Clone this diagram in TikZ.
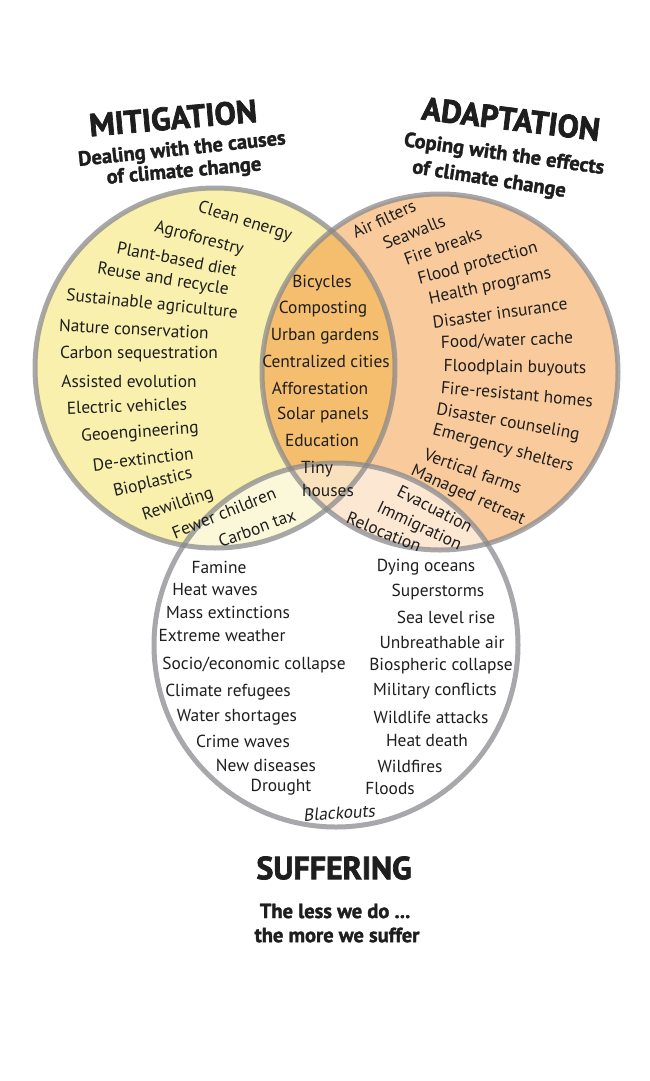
\documentclass[tikz,border=0pt]{standalone}
\usepackage{fontspec}
\setmainfont{PT Sans}
\newfontfamily\heavyfont{PT Sans}[FakeBold=2.2]
\newfontfamily\subheavyfont{PT Sans}[FakeBold=1.6]
\newfontfamily\slantfont{PT Sans}[FakeSlant=0.18]
\definecolor{mityellow}{RGB}{248,240,172}
\definecolor{adorange}{RGB}{249,203,156}
\definecolor{bothorange}{RGB}{245,190,110}
\definecolor{ringgray}{RGB}{135,135,140}
\definecolor{inktext}{RGB}{30,30,30}
\begin{document}
\begin{tikzpicture}[x=1pt,y=-1pt,
  item/.style={font=\fontsize{17.4}{19}\selectfont, inner sep=0pt, text=inktext},
  title/.style={font=\heavyfont\bfseries\fontsize{32}{34}\selectfont, inner sep=0pt, text=inktext},
  subtitle/.style={font=\subheavyfont\bfseries\fontsize{20.5}{22}\selectfont, inner sep=0pt, text=inktext},
  ring/.style={draw=ringgray, line width=5pt, draw opacity=0.72}]
\useasboundingbox (0,0) rectangle (649,1081);
\fill[white] (0,0) rectangle (649,1081);
% circles
\coordinate (cm) at (215,368);
\coordinate (ca) at (440,372);
\coordinate (cs) at (336,645);
\fill[mityellow] (cm) circle (180);
\fill[adorange] (ca) circle (178);
\begin{scope}
  \clip (cm) circle (180);
  \fill[bothorange] (ca) circle (178);
\end{scope}
\fill[white, fill opacity=0.55] (cs) circle (182);
\draw[ring] (cm) circle (180);
\draw[ring] (ca) circle (178);
\draw[ring] (cs) circle (182);
% titles
\node[title, rotate=5] (tm) at (173,118) {MITIGATION};
\node[subtitle, rotate=6] (tm1) at (182,150) {Dealing with the causes};
\node[subtitle, rotate=5] (tm2) at (184,172) {of climate change};
\node[title, rotate=-7] (ta) at (511,119) {ADAPTATION};
\node[subtitle, rotate=-8] (ta1) at (504,155) {Coping with the effects};
\node[subtitle, rotate=-9] (ta2) at (489,180) {of climate change};
\node[title] (ts) at (334,868) {SUFFERING};
\node[subtitle] (ts1) at (335,911) {The less we do ...};
\node[subtitle] (ts2) at (337,935) {the more we suffer};
% mitigation
\node[item, rotate=-17] (m1) at (245,222) {Clean energy};
\node[item, rotate=-15] (m2) at (199,239) {Agroforestry};
\node[item, rotate=-11] (m3) at (177,259) {Plant-based diet};
\node[item, rotate=-9] (m4) at (163,280) {Reuse and recycle};
\node[item, rotate=-6] (m5) at (152,305) {Sustainable agriculture};
\node[item, rotate=-3] (m6) at (134,329) {Nature conservation};
\node[item] (m7) at (139,354) {Carbon sequestration};
\node[item] (m8) at (129,381) {Assisted evolution};
\node[item, rotate=2] (m9) at (127,406) {Electric vehicles};
\node[item, rotate=4] (m10) at (140,433) {Geoengineering};
\node[item, rotate=7] (m11) at (143,459) {De-extinction};
\node[item, rotate=13] (m12) at (153,483) {Bioplastics};
\node[item, rotate=18] (m13) at (178,505) {Rewilding};
\node[item, rotate=22] (m14) at (224,513) {Fewer children};
\node[item, rotate=20] (m15) at (257,528) {Carbon tax};
% both
\node[item] (b1) at (322,283) {Bicycles};
\node[item] (b2) at (323,309) {Composting};
\node[item] (b3) at (325,336) {Urban gardens};
\node[item] (b4) at (326,361) {Centralized cities};
\node[item] (b5) at (320,388) {Afforestation};
\node[item] (b6) at (323,415) {Solar panels};
\node[item] (b7) at (322,440) {Education};
\node[item] (b8) at (317,469) {Tiny};
\node[item] (b9) at (328,491) {houses};
% adaptation
\node[item, rotate=25] (a1) at (384,219) {Air filters};
\node[item, rotate=22] (a2) at (414,232) {Seawalls};
\node[item, rotate=20] (a3) at (443,246) {Fire breaks};
\node[item, rotate=15] (a4) at (478,264) {Flood protection};
\node[item, rotate=12] (a5) at (490,287) {Health programs};
\node[item, rotate=8] (a6) at (500,313) {Disaster insurance};
\node[item, rotate=2] (a7) at (507,341) {Food/water cache};
\node[item, rotate=-1] (a8) at (515,368) {Floodplain buyouts};
\node[item, rotate=-5] (a9) at (517,394) {Fire-resistant homes};
\node[item, rotate=-10] (a10) at (508,423) {Disaster counseling};
\node[item, rotate=-15] (a11) at (503,449) {Emergency shelters};
\node[item, rotate=-20] (a12) at (473,471) {Vertical farms};
\node[item, rotate=-24] (a13) at (468,496) {Managed retreat};
\node[item, rotate=-27] (a14) at (435,509) {Evacuation};
\node[item, rotate=-25] (a15) at (419,527) {Immigration};
\node[item, rotate=-22] (a16) at (384,532) {Relocation};
% suffering
\node[item] (s1) at (219,567) {Famine};
\node[item] (s2) at (215,590) {Heat waves};
\node[item] (s3) at (228,612) {Mass extinctions};
\node[item] (s4) at (222,636) {Extreme weather};
\node[item] (s5) at (254,665) {Socio/economic collapse};
\node[item] (s6) at (228,692) {Climate refugees};
\node[item] (s7) at (237,717) {Water shortages};
\node[item] (s8) at (243,741) {Crime waves};
\node[item] (s9) at (266,765) {New diseases};
\node[item] (s10) at (281,787) {Drought};
\node[item, font=\slantfont\fontsize{17.4}{19}\selectfont, rotate=4] (s11) at (339,813) {Blackouts};
\node[item] (s12) at (426,567) {Dying oceans};
\node[item] (s13) at (438,592) {Superstorms};
\node[item] (s14) at (446,617) {Sea level rise};
\node[item] (s15) at (442,642) {Unbreathable air};
\node[item] (s16) at (441,666) {Biospheric collapse};
\node[item] (s17) at (435,691) {Military conflicts};
\node[item] (s18) at (431,717) {Wildlife attacks};
\node[item] (s19) at (427,741) {Heat death};
\node[item] (s20) at (410,766) {Wildfires};
\node[item] (s21) at (390,789) {Floods};
\end{tikzpicture}
\end{document}
